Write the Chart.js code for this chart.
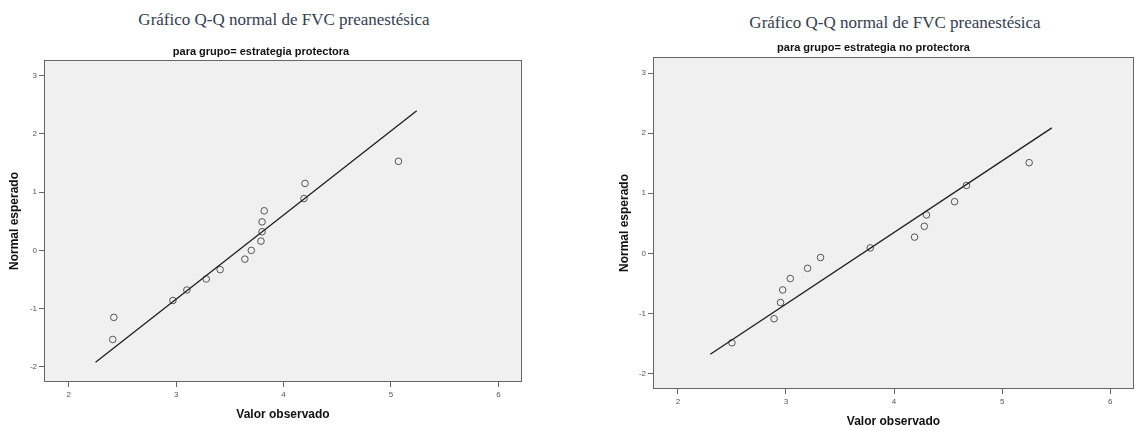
<!DOCTYPE html>
<html lang="es">
<head>
<meta charset="utf-8">
<title>Gráfico Q-Q normal de FVC preanestésica</title>
<script src="https://cdn.jsdelivr.net/npm/chart.js@4.4.1/dist/chart.umd.min.js"></script>
<style>
  html, body { margin: 0; padding: 0; background: #ffffff; }
  body { position: relative; width: 1139px; height: 431px; overflow: hidden; }
  canvas { position: absolute; top: 0; }
  #qqLeft { left: 0; }
  #qqRight { left: 610px; }
  .mainTitle {
    position: absolute; width: 400px; text-align: center;
    font-family: "Liberation Serif", "Times New Roman", serif;
    font-size: 17px; line-height: 20px; color: #353c52;
    white-space: nowrap;
  }
  #titleLeft { left: 84px; top: 10px; }
  #titleRight { left: 695px; top: 13px; }
</style>
</head>
<body>
<div class="mainTitle" id="titleLeft"></div>
<div class="mainTitle" id="titleRight"></div>
<canvas id="qqLeft" width="560" height="431"></canvas>
<canvas id="qqRight" width="529" height="431"></canvas>
<script>
// Texts
const mainTitle = 'Gráfico Q-Q normal de FVC preanestésica';
const groupProtectora = 'para grupo= estrategia protectora';
const groupNoProtectora = 'para grupo= estrategia no protectora';
const xAxisTitle = 'Valor observado';
const yAxisTitle = 'Normal esperado';

// Axis ticks and ranges
const xTickValues = [2, 3, 4, 5, 6];
const yTickValues = [-2, -1, 0, 1, 2, 3];
const xRange = [1.77, 6.22];
const yRange = [-2.26, 3.27];

// Grupo: estrategia protectora
const protectoraObservado = [2.41, 2.42, 2.97, 3.10, 3.28, 3.41, 3.64, 3.70, 3.79, 3.80, 3.80, 3.82, 4.19, 4.20, 5.07];
const protectoraEsperado  = [-1.53, -1.15, -0.86, -0.68, -0.49, -0.33, -0.15, 0.00, 0.16, 0.32, 0.49, 0.68, 0.89, 1.15, 1.53];
const protectoraRectaX = [2.25, 5.24];
const protectoraRectaY = [-1.92, 2.40];

// Grupo: estrategia no protectora
const noProtectoraObservado = [2.50, 2.89, 2.95, 2.97, 3.04, 3.20, 3.32, 3.78, 4.19, 4.28, 4.30, 4.56, 4.67, 5.25];
const noProtectoraEsperado  = [-1.49, -1.09, -0.82, -0.61, -0.42, -0.25, -0.07, 0.09, 0.27, 0.45, 0.64, 0.86, 1.13, 1.51];
const noProtectoraRectaX = [2.30, 5.46];
const noProtectoraRectaY = [-1.68, 2.09];

document.getElementById('titleLeft').textContent = mainTitle;
document.getElementById('titleRight').textContent = mainTitle;

const SANS = '"Liberation Sans", Arial, sans-serif';

// Light gray plot background and a frame around the plot area
const plotFrame = {
  id: 'plotFrame',
  beforeDraw(chart) {
    const a = chart.chartArea, ctx = chart.ctx;
    ctx.save();
    ctx.fillStyle = '#f0f0f0';
    ctx.fillRect(a.left, a.top, a.right - a.left, a.bottom - a.top);
    ctx.restore();
  },
  afterDraw(chart) {
    const a = chart.chartArea, ctx = chart.ctx;
    ctx.save();
    ctx.strokeStyle = '#666666';
    ctx.lineWidth = 1;
    ctx.strokeRect(Math.round(a.left) + 0.5, Math.round(a.top) + 0.5,
                   Math.round(a.right - a.left) - 1, Math.round(a.bottom - a.top) - 1);
    ctx.restore();
  }
};

function toPoints(xs, ys) {
  return xs.map((x, i) => ({ x: x, y: ys[i] }));
}

function qqChart(canvasId, L) {
  return new Chart(document.getElementById(canvasId), {
    type: 'scatter',
    data: {
      datasets: [
        {
          label: 'Recta',
          data: toPoints(L.lineX, L.lineY),
          showLine: true,
          borderColor: '#1e1e1e',
          borderWidth: 1.3,
          pointRadius: 0,
          fill: false,
          order: 1
        },
        {
          label: 'Observado',
          data: toPoints(L.obs, L.exp),
          pointStyle: 'circle',
          pointRadius: 3.3,
          pointBorderWidth: 1,
          pointBorderColor: '#555555',
          pointBackgroundColor: 'rgba(0,0,0,0)',
          order: 2
        }
      ]
    },
    options: {
      responsive: false,
      animation: false,
      devicePixelRatio: 1,
      layout: { padding: { left: 0, right: L.padRight, top: 0, bottom: 0 } },
      plugins: {
        legend: { display: false },
        tooltip: { enabled: false },
        title: {
          display: true,
          text: L.subtitle,
          color: '#111111',
          font: { family: SANS, size: 11, weight: 'bold' },
          padding: { top: L.subPadTop, bottom: L.subPadBottom }
        }
      },
      scales: {
        x: {
          type: 'linear',
          position: 'bottom',
          min: xRange[0],
          max: xRange[1],
          afterBuildTicks: s => { s.ticks = xTickValues.map(v => ({ value: v })); },
          afterFit: s => { s.height = L.xAxisHeight; },
          border: { display: false },
          grid: { drawOnChartArea: false, drawTicks: true, tickLength: 5, color: '#666666' },
          ticks: { color: '#555555', font: { family: SANS, size: 8 }, padding: 3, maxRotation: 0 },
          title: {
            display: true, text: xAxisTitle, color: '#111111',
            font: { family: SANS, size: 12, weight: 'bold' },
            padding: { top: 0, bottom: L.xTitlePad }
          }
        },
        y: {
          type: 'linear',
          position: 'left',
          min: yRange[0],
          max: yRange[1],
          afterBuildTicks: s => { s.ticks = yTickValues.map(v => ({ value: v })); },
          afterFit: s => { s.width = L.yAxisWidth; },
          border: { display: false },
          grid: { drawOnChartArea: false, drawTicks: true, tickLength: 5, color: '#666666' },
          ticks: { color: '#555555', font: { family: SANS, size: 8 }, padding: 2 },
          title: {
            display: true, text: yAxisTitle, color: '#111111',
            font: { family: SANS, size: 12, weight: 'bold' },
            padding: { top: L.yTitlePad, bottom: 0 }
          }
        }
      }
    },
    plugins: [plotFrame]
  });
}

qqChart('qqLeft', {
  obs: protectoraObservado, exp: protectoraEsperado,
  lineX: protectoraRectaX, lineY: protectoraRectaY,
  subtitle: groupProtectora,
  padRight: 38, subPadTop: 45.6, subPadBottom: 1.2,
  xAxisHeight: 49, xTitlePad: 8.8, yAxisWidth: 44, yTitlePad: 7.8
});

qqChart('qqRight', {
  obs: noProtectoraObservado, exp: noProtectoraEsperado,
  lineX: noProtectoraRectaX, lineY: noProtectoraRectaY,
  subtitle: groupNoProtectora,
  padRight: 2, subPadTop: 41.1, subPadBottom: 2.7,
  xAxisHeight: 42, xTitlePad: 1.8, yAxisWidth: 43, yTitlePad: 7.5
});
</script>
</body>
</html>
